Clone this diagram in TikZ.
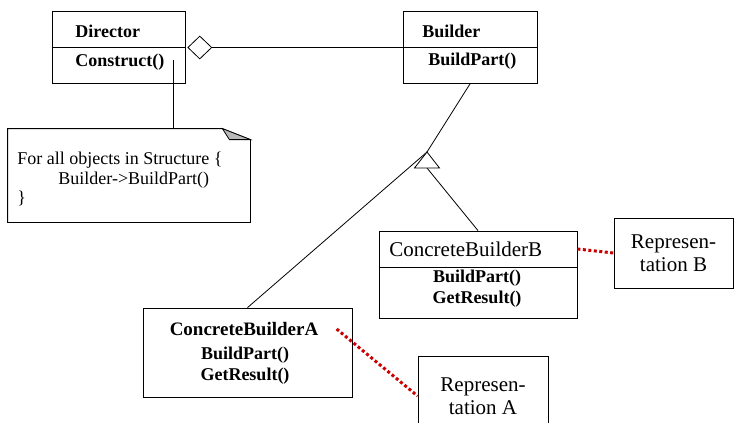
\documentclass[tikz,border=0pt]{standalone}
\usepackage{fontspec}
\setmainfont{Liberation Serif}
\usetikzlibrary{calc, shapes.geometric}

\begin{document}
\begin{tikzpicture}[
        x=1pt, y=-1pt,
        line width=0.8pt,
        % Styles
        classbox/.style={draw, inner sep=0pt},
        classname/.style={font=\fontsize{18}{20}\selectfont\bfseries, inner sep=0pt},
        method/.style={font=\fontsize{18}{20}\selectfont\bfseries, inner sep=0pt},
        notetext/.style={font=\fontsize{18}{19.5}\selectfont, align=left, inner sep=0pt},
        repbox/.style={draw, align=center, font=\fontsize{21}{23}\selectfont, inner sep=0pt},
        aggregate/.style={diamond, draw, fill=white, minimum width=24pt, minimum height=23pt, inner sep=0pt},
        replink/.style={red!80!black, line width=3pt, dash pattern=on 3pt off 2.5pt}
    ]
    \useasboundingbox (0,0) rectangle (734,423);
    \clip (0,0) rectangle (734,423);

    % 1. DIRECTOR AND BUILDER
    \node[classbox, minimum width=133pt, minimum height=72pt] (director) at (118.5,47.5) {};
    \draw (director.west) -- (director.east);
    \node[classname, anchor=west] (dirname) at (75,31) {Director};
    \node[method, anchor=west] (construct) at (75,62) {Construct()};

    \node[classbox, minimum width=134pt, minimum height=72pt] (builder) at (470,47.5) {};
    \draw (builder.west) -- (builder.east);
    \node[classname, anchor=west] (buildername) at (422,31) {Builder};
    \node[method, anchor=west] (buildpart) at (428,61) {BuildPart()};

    \node[aggregate, anchor=west] (agg) at ([xshift=2pt]director.east) {};
    \draw (agg.east) -- (builder.west);

    % 2. THE NOTE
    \node[minimum width=242pt, minimum height=93pt, inner sep=0pt] (note) at (129,175.5) {};
    \draw (note.north west) -- ($(note.north east)+(-28,0)$) -- ($(note.north east)+(0,11)$)
        -- (note.south east) -- (note.south west) -- cycle;
    \filldraw[fill=gray!55] ($(note.north east)+(-28,0)$) -- ($(note.north east)+(0,11)$)
        -- ($(note.north east)+(-21,11)$) -- cycle;
    \node[notetext, anchor=north west] (notebody) at (17,152)
        {For all objects in Structure \{\\\hspace*{41pt}Builder->BuildPart()\\\}};
    \coordinate (dirlink) at (173,60);
    \draw (dirlink) -- (dirlink |- note.north);

    % 3. CONCRETE BUILDERS
    \node[classbox, minimum width=198pt, minimum height=87pt] (cbb) at (478,274.5) {};
    \draw (cbb.west |- 0,267) -- (cbb.east |- 0,267);
    \node[classname, font=\fontsize{21}{23}\selectfont, anchor=west] (cbbname) at (389,249) {ConcreteBuilderB};
    \node[method] (cbbbuild) at (477,278) {BuildPart()};
    \node[method] (cbbresult) at (477,299) {GetResult()};

    \node[classbox, minimum width=209pt, minimum height=89pt] (cba) at (247.5,352.5) {};
    \node[classname, font=\fontsize{19}{21}\selectfont\bfseries] (cbaname) at (244,329) {ConcreteBuilderA};
    \node[method] (cbabuild) at (245,355) {BuildPart()};
    \node[method] (cbaresult) at (245,376) {GetResult()};

    % 4. GENERALIZATION
    \coordinate (apex) at (427,152);
    \draw (builder.south) -- (apex);
    \draw (cba.north) -- (apex);
    \draw (cbb.north) -- ($(apex)+(0,16)$);
    \draw[fill=white] (apex) -- ++(-12.5,16) -- ++(25,0) -- cycle;

    % 5. REPRESENTATIONS
    \node[repbox, minimum width=119pt, minimum height=70pt] (repB) at (673.5,253) {Represen-\\tation B};
    \node[repbox, minimum width=130pt, minimum height=80pt] (repA) at (483,396) {Represen-\\tation A};
    \draw[replink] (cbb.east |- cbbname) -- (repB.west);
    \draw[replink] ([xshift=18pt]cbaname.east) -- (repA.west);
\end{tikzpicture}
\end{document}
